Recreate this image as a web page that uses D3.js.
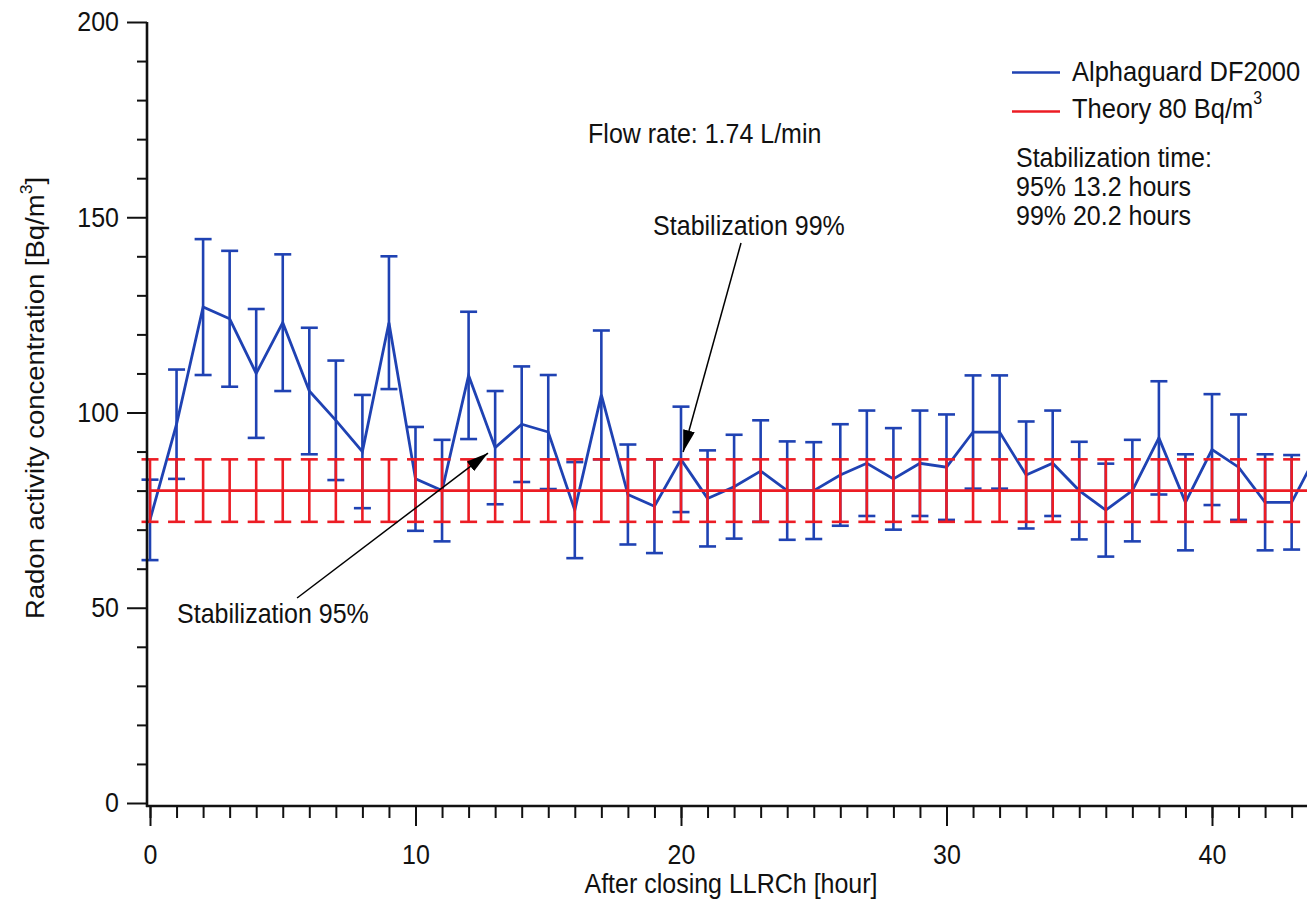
<!DOCTYPE html>
<html>
<head>
<meta charset="utf-8">
<script src="https://cdn.jsdelivr.net/npm/d3@7"></script>
<style>
body { margin: 0; background: #fff; }
text { font-family: "Liberation Sans", Arial, sans-serif; fill: #111; }
</style>
</head>
<body>
<div id="chart"></div>
<script>
// hours after closing the chamber
var hours = [0, 1, 2, 3, 4, 5, 6, 7, 8, 9, 10, 11, 12, 13, 14, 15, 16, 17, 18, 19, 20, 21,
             22, 23, 24, 25, 26, 27, 28, 29, 30, 31, 32, 33, 34, 35, 36, 37, 38, 39, 40, 41, 42, 43, 44];
// Alphaguard DF2000 readings [Bq/m3] and their error
var alpha = [72.5, 97, 127, 124, 110, 123, 105.5, 98, 90, 123, 83, 80, 109.5, 91, 97, 95, 75, 104.5, 79, 76,
             88, 78, 81, 85, 80, 80, 84, 87, 83, 87, 86, 95, 95, 84, 87, 80, 75, 80, 93.5, 77, 90.5, 86, 77, 77, 90];
var alphaErr = [10.3, 14, 17.4, 17.4, 16.5, 17.5, 16.2, 15.3, 14.5, 17, 13.3, 13, 16.3, 14.5, 14.8, 14.6, 12.3, 16.5, 12.8, 12,
                13.5, 12.3, 13.3, 13, 12.6, 12.4, 13, 13.5, 13, 13.5, 13.5, 14.5, 14.5, 13.7, 13.5, 12.5, 11.9, 13, 14.5, 12.3,
                14.2, 13.5, 12.3, 12.1, 14];
// theory line
var theory = 80;
var theoryErr = 8;

var yMajor = [0, 50, 100, 150, 200];
var yMinor = [10, 20, 30, 40, 60, 70, 80, 90, 110, 120, 130, 140, 160, 170, 180, 190];
var xMajor = [0, 10, 20, 30, 40];

var w = 1307, h = 902;
var blue = "#1f42b3", red = "#ec1c24";
var stretch = 1.1; // text in the figure is a little taller than wide

var xScale = d3.scaleLinear().domain([0, 44]).range([150, 150 + 44 * 26.55]);
var yScale = d3.scaleLinear().domain([0, 200]).range([803, 22]);

var svg = d3.select("#chart").append("svg")
    .attr("width", w)
    .attr("height", h);

svg.append("defs").append("marker")
    .attr("id", "arrow")
    .attr("markerUnits", "userSpaceOnUse")
    .attr("markerWidth", 22).attr("markerHeight", 12)
    .attr("refX", 22).attr("refY", 6)
    .attr("orient", "auto")
  .append("path")
    .attr("d", "M0,0 L22,6 L0,12 Z")
    .attr("fill", "#000");

// text helper, stretched a bit vertically like the source
function label(x, y, str, size, anchor, rotate) {
    var g = svg.append("g")
        .attr("transform", "translate(" + x + "," + y + ") scale(1," + stretch + ")" + (rotate ? " rotate(" + rotate + ")" : ""));
    var t = g.append("text")
        .attr("font-size", size)
        .attr("text-anchor", anchor || "start")
        .text(str);
    return t;
}

//Error bars
function errorBars(vals, errs, color) {
    var cap = 8.5;
    var g = svg.append("g")
        .attr("stroke", color)
        .attr("stroke-width", 2.6)
        .attr("fill", "none");
    hours.forEach(function(d, i) {
        var v = Array.isArray(vals) ? vals[i] : vals;
        var e = Array.isArray(errs) ? errs[i] : errs;
        var x = xScale(d), y1 = yScale(v + e), y0 = yScale(v - e);
        g.append("line").attr("x1", x).attr("x2", x).attr("y1", y1).attr("y2", y0);
        g.append("line").attr("x1", x - cap).attr("x2", x + cap).attr("y1", y1).attr("y2", y1);
        g.append("line").attr("x1", x - cap).attr("x2", x + cap).attr("y1", y0).attr("y2", y0);
    });
}

var line = d3.line()
    .x(function(d, i) { return xScale(hours[i]); })
    .y(function(d) { return yScale(d); });

// blue series first, theory drawn on top
errorBars(alpha, alphaErr, blue);
svg.append("path")
    .datum(alpha)
    .attr("d", line)
    .attr("fill", "none")
    .attr("stroke", blue)
    .attr("stroke-width", 2.8);

errorBars(theory, theoryErr, red);
svg.append("path")
    .datum(hours.map(function() { return theory; }))
    .attr("d", line)
    .attr("fill", "none")
    .attr("stroke", red)
    .attr("stroke-width", 2.8);

//Y axis
var yAxis = d3.axisLeft(yScale).tickValues(yMajor).tickSize(20).tickSizeOuter(0).tickPadding(8);
var yAxisMinor = d3.axisLeft(yScale).tickValues(yMinor).tickSize(10).tickSizeOuter(0).tickFormat("");
var gy = svg.append("g").attr("transform", "translate(147,0)").call(yAxis);
svg.append("g").attr("transform", "translate(147,0)").call(yAxisMinor);

//X axis
var xAxis = d3.axisBottom(xScale).tickValues(xMajor).tickSize(20).tickSizeOuter(0).tickPadding(18);
var xAxisMinor = d3.axisBottom(xScale).tickValues(hours).tickSize(12).tickSizeOuter(0).tickFormat("");
var gx = svg.append("g").attr("transform", "translate(0,806)").call(xAxis);
svg.append("g").attr("transform", "translate(0,806)").call(xAxisMinor);

svg.selectAll(".domain").remove();
svg.selectAll(".tick line").attr("stroke", "#111").attr("stroke-width", 2);
svg.selectAll(".tick text")
    .attr("font-size", 25)
    .attr("font-family", "Liberation Sans, Arial, sans-serif")
    .attr("fill", "#111");
gx.selectAll(".tick text").each(function() {
    var t = d3.select(this), yy = +t.attr("y");
    t.attr("y", 0).attr("transform", "translate(0," + yy + ") scale(1," + stretch + ")");
});
gy.selectAll(".tick text").attr("transform", "scale(1," + stretch + ")");

// axis lines
svg.append("line").attr("x1", 147).attr("x2", 147).attr("y1", yScale(200)).attr("y2", 807)
    .attr("stroke", "#111").attr("stroke-width", 2.6);
svg.append("line").attr("x1", 146).attr("x2", w).attr("y1", 806).attr("y2", 806)
    .attr("stroke", "#111").attr("stroke-width", 2.6);

// axis titles
label(731, 893, "After closing LLRCh [hour]", 25, "middle");
var yt = label(44, 398, "Radon activity concentration [Bq/m", 25, "middle", -90);
yt.append("tspan").attr("font-size", 16).attr("dy", -12).text("3");
yt.append("tspan").attr("dy", 12).text("]");

// annotations
label(xScale(16.5), yScale(169), "Flow rate: 1.74 L/min", 25);
label(xScale(18.95), yScale(145.5), "Stabilization 99%", 25);
label(xScale(1.02), yScale(46.1), "Stabilization 95%", 25);

svg.append("line")
    .attr("x1", xScale(22.26)).attr("y1", yScale(143.4))
    .attr("x2", xScale(20.08)).attr("y2", yScale(89.9))
    .attr("stroke", "#000").attr("stroke-width", 1.5)
    .attr("marker-end", "url(#arrow)");
svg.append("line")
    .attr("x1", xScale(5.54)).attr("y1", yScale(52.5))
    .attr("x2", xScale(12.73)).attr("y2", yScale(89.6))
    .attr("stroke", "#000").attr("stroke-width", 1.5)
    .attr("marker-end", "url(#arrow)");

// legend
svg.append("line").attr("x1", 1012).attr("x2", 1060).attr("y1", 72.5).attr("y2", 72.5)
    .attr("stroke", blue).attr("stroke-width", 2.4);
svg.append("line").attr("x1", 1012).attr("x2", 1060).attr("y1", 111.5).attr("y2", 111.5)
    .attr("stroke", red).attr("stroke-width", 2.4);
label(1072, 81, "Alphaguard DF2000", 25.5);
var th = label(1072, 118, "Theory 80 Bq/m", 25.5);
th.append("tspan").attr("font-size", 16).attr("dy", -13).text("3");

label(1016, 167, "Stabilization time:", 25);
label(1016, 196, "95% 13.2 hours", 25);
label(1016, 225, "99% 20.2 hours", 25);
</script>
</body>
</html>
